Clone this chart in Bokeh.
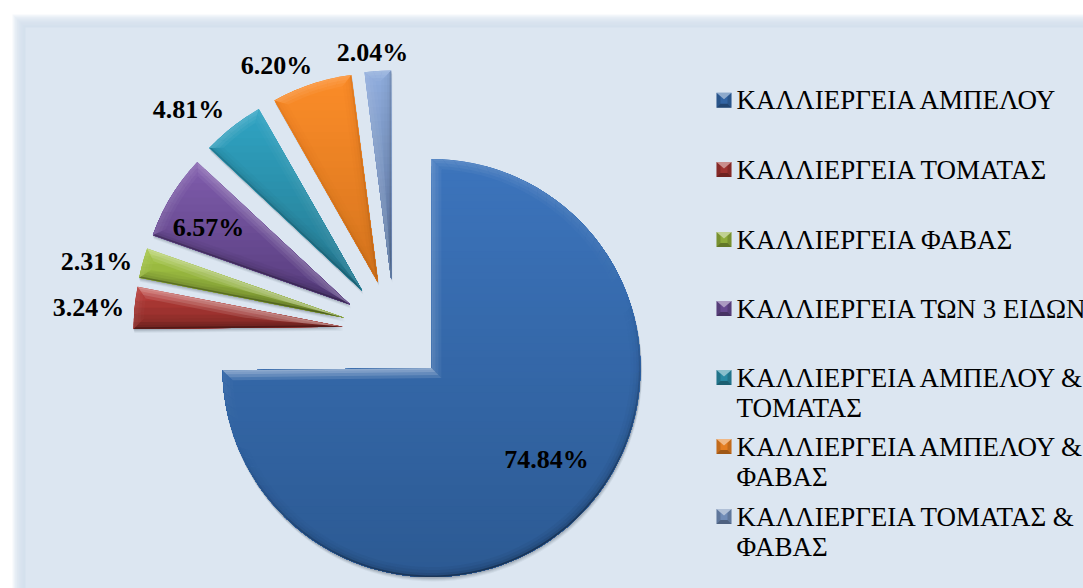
import math
from bokeh.plotting import figure
from bokeh.models import Range1d, ColumnDataSource
from bokeh.core.properties import value
from bokeh.embed import file_html
from bokeh.resources import INLINE

categories = ["ΚΑΛΛΙΕΡΓΕΙΑ ΑΜΠΕΛΟΥ", "ΚΑΛΛΙΕΡΓΕΙΑ ΤΟΜΑΤΑΣ", "ΚΑΛΛΙΕΡΓΕΙΑ ΦΑΒΑΣ",
              "ΚΑΛΛΙΕΡΓΕΙΑ ΤΩΝ 3 ΕΙΔΩΝ", "ΚΑΛΛΙΕΡΓΕΙΑ ΑΜΠΕΛΟΥ & ΤΟΜΑΤΑΣ",
              "ΚΑΛΛΙΕΡΓΕΙΑ ΑΜΠΕΛΟΥ & ΦΑΒΑΣ", "ΚΑΛΛΙΕΡΓΕΙΑ ΤΟΜΑΤΑΣ & ΦΑΒΑΣ"]
legend_lines = [["ΚΑΛΛΙΕΡΓΕΙΑ ΑΜΠΕΛΟΥ"], ["ΚΑΛΛΙΕΡΓΕΙΑ ΤΟΜΑΤΑΣ"], ["ΚΑΛΛΙΕΡΓΕΙΑ ΦΑΒΑΣ"],
                ["ΚΑΛΛΙΕΡΓΕΙΑ ΤΩΝ 3 ΕΙΔΩΝ"], ["ΚΑΛΛΙΕΡΓΕΙΑ ΑΜΠΕΛΟΥ &", "ΤΟΜΑΤΑΣ"],
                ["ΚΑΛΛΙΕΡΓΕΙΑ ΑΜΠΕΛΟΥ &", "ΦΑΒΑΣ"], ["ΚΑΛΛΙΕΡΓΕΙΑ ΤΟΜΑΤΑΣ &", "ΦΑΒΑΣ"]]
shares = [74.84, 3.24, 2.31, 6.57, 4.81, 6.20, 2.04]
top_colors = ["#3C74BC", "#B93D39", "#A3C445", "#7F5CAC", "#2FA3C2", "#FB8C28", "#8FACDC"]
bot_colors = ["#2C5A93", "#8A2B28", "#7E9A33", "#563C7C", "#25788F", "#D5741E", "#5C769F"]

# layout (page pixels)
W, H = 1083, 588
def Y(py): return 588 - py
CX, CY, EXPLODE, R = 394.0, Y(331), 52.0, 209.0
label_pos = [(546, 459), (88, 307), (96, 261), (208, 227), (188, 109), (276, 65), (372, 52)]
swatch_py = [99.7, 169, 239, 308, 377, 446, 516]
SW_X, TXT_X, SW = 723.5, 736, 15
LINE_H = 30.5
SERIF = "Liberation Serif"

p = figure(width=W, height=H, x_range=Range1d(0, 1083), y_range=Range1d(0, 588),
           toolbar_location=None, output_backend="svg", min_border=0,
           background_fill_color="white", border_fill_color="white", outline_line_color=None)
p.axis.visible = False
p.grid.visible = False

# panel with soft edge
PX0, PY0 = 25.0, 27.0
for i in range(10):
    d = 13 * (1 - i / 10)
    p.quad(left=PX0 - d, right=1090, top=Y(PY0 - d), bottom=-10, fill_color="#D3DEEC",
           fill_alpha=0.22, line_color=None)
p.quad(left=PX0, right=1090, top=Y(PY0), bottom=-10, fill_color="#DCE6F1", line_color=None)

def hexrgb(c): return tuple(int(c[i:i + 2], 16) for i in (1, 3, 5))
def mix(a, b, t):
    ra, rb = hexrgb(a), hexrgb(b)
    return "#%02x%02x%02x" % tuple(round(x + (y - x) * t) for x, y in zip(ra, rb))

def clip_below(poly, yc):
    out = []
    n = len(poly)
    for i in range(n):
        (x0, y0), (x1, y1) = poly[i], poly[(i + 1) % n]
        in0, in1 = y0 <= yc, y1 <= yc
        if in0:
            out.append((x0, y0))
        if in0 != in1:
            t = (yc - y0) / (y1 - y0)
            out.append((x0 + (x1 - x0) * t, yc))
    return out

total = sum(shares)
cum = 0.0
geo = []
for v in shares:
    a0 = 90 - 360 * cum / total
    a1 = 90 - 360 * (cum + v) / total
    mid = math.radians((a0 + a1) / 2)
    geo.append(dict(a0=math.radians(a0), a1=math.radians(a1), mid=mid,
                    x=CX + EXPLODE * math.cos(mid), y=CY + EXPLODE * math.sin(mid)))
    cum += v

src = ColumnDataSource(dict(x=[g["x"] for g in geo], y=[g["y"] for g in geo],
                            start=[g["a1"] for g in geo], end=[g["a0"] for g in geo],
                            color=top_colors, share=shares, name=categories))
# soft drop shadow
for off, al in ((4, 0.05), (3, 0.07), (2, 0.09), (1, 0.12)):
    p.wedge(x=[g["x"] + off * 0.3 for g in geo], y=[g["y"] - off for g in geo], radius=R + 0.5,
            start_angle=[g["a1"] for g in geo], end_angle=[g["a0"] for g in geo],
            fill_color="#1a2433", fill_alpha=al, line_color=None)
p.wedge(x="x", y="y", radius=R, start_angle="start", end_angle="end", fill_color="color",
        line_color=None, source=src)

LIGHT = (-0.35, 0.94)
def arc_pts(g, r, adj, n):
    return [(g["x"] + r * math.cos(g["a1"] + adj + (g["a0"] - g["a1"] - 2 * adj) * k / n),
             g["y"] + r * math.sin(g["a1"] + adj + (g["a0"] - g["a1"] - 2 * adj) * k / n))
            for k in range(n + 1)]

xs_g, ys_g, cols_g = [], [], []
xs_w, ys_w, al_w = [], [], []
xs_b, ys_b, al_b = [], [], []
ARC_WHITE = 0.35
for i, g in enumerate(geo):
    n = max(3, int(math.degrees(g["a0"] - g["a1"]) / 3))
    outer = arc_pts(g, R, 0, n)
    poly = [(g["x"], g["y"])] + outer
    ytop = max(q[1] for q in poly)
    ybot = min(q[1] for q in poly)
    steps = max(6, int((ytop - ybot) / 7))
    for k in range(steps):
        yc = ytop - (ytop - ybot) * k / steps
        c = clip_below(poly, yc)
        if len(c) >= 3:
            xs_g.append([q[0] for q in c])
            ys_g.append([q[1] for q in c])
            cols_g.append(mix(top_colors[i], bot_colors[i], k / (steps - 1)))
    half = (g["a0"] - g["a1"]) / 2
    bis = (g["a0"] + g["a1"]) / 2
    for w, kw, kb in ((10, 0.13, 0.04), (7, 0.15, 0.05), (4, 0.16, 0.08), (1.6, 0.14, 0.30)):
        adj = math.asin(w / (R - w))
        inner = arc_pts(g, R - w, adj, n)
        ax = g["x"] + math.cos(bis) * w / math.sin(half)
        ay = g["y"] + math.sin(bis) * w / math.sin(half)
        strips = []
        for a in range(n):
            nrm = g["a1"] + (g["a0"] - g["a1"]) * (a + .5) / n
            strips.append(([outer[a], outer[a + 1], inner[a + 1], inner[a]], nrm, ARC_WHITE))
        strips.append(([(g["x"], g["y"]), outer[-1], inner[-1], (ax, ay)], g["a0"] + math.pi / 2, 1.0))
        strips.append(([(g["x"], g["y"]), outer[0], inner[0], (ax, ay)], g["a1"] - math.pi / 2, 1.0))
        for quad_pts, ang, f in strips:
            d = math.cos(ang) * LIGHT[0] + math.sin(ang) * LIGHT[1]
            qx, qy = [q[0] for q in quad_pts], [q[1] for q in quad_pts]
            if d > 0:
                xs_w.append(qx); ys_w.append(qy); al_w.append(kw * d * f)
            else:
                xs_b.append(qx); ys_b.append(qy); al_b.append(-kb * d)

p.patches(xs_g, ys_g, fill_color=cols_g, line_color=None)
p.patches(xs_w, ys_w, fill_color="white", fill_alpha=al_w, line_color=None)
p.patches(xs_b, ys_b, fill_color="black", fill_alpha=al_b, line_color=None)

# data labels
p.text(x=[q[0] for q in label_pos], y=[Y(q[1]) for q in label_pos],
       text=[f"{v:.2f}%" for v in shares], text_font=value(SERIF), text_font_style="bold",
       text_font_size="26px", text_color="black", text_align="center", text_baseline="middle")

# legend
h = SW / 2
for i, py in enumerate(swatch_py):
    cy = Y(py)
    p.rect(x=[SW_X], y=[cy], width=SW, height=SW, fill_color=mix(top_colors[i], bot_colors[i], 0.6),
           line_color=None)
    x0, x1, y0, y1 = SW_X - h, SW_X + h, cy - h, cy + h
    p.patches([[x0, x1, SW_X]], [[y1, y1, cy + 1]], fill_color="white", fill_alpha=0.45, line_color=None)
    p.patches([[x0, x1, x1 - 4, x0 + 4]], [[y0, y0, y0 + 4, y0 + 4]], fill_color="black", fill_alpha=0.3, line_color=None)
    p.patches([[x0, x0 + 4, x0 + 4, x0], [x1, x1 - 4, x1 - 4, x1]],
              [[y0, y0 + 4, y1 - 4, y1], [y0, y0 + 4, y1 - 4, y1]], fill_color="black", fill_alpha=0.15, line_color=None)
    for j, line in enumerate(legend_lines[i]):
        p.text(x=[TXT_X], y=[cy - j * LINE_H], text=[line], text_font=value(SERIF), text_font_size="27px",
               text_color="black", text_align="left", text_baseline="middle")

open("out.html", "w").write(file_html(p, INLINE))
